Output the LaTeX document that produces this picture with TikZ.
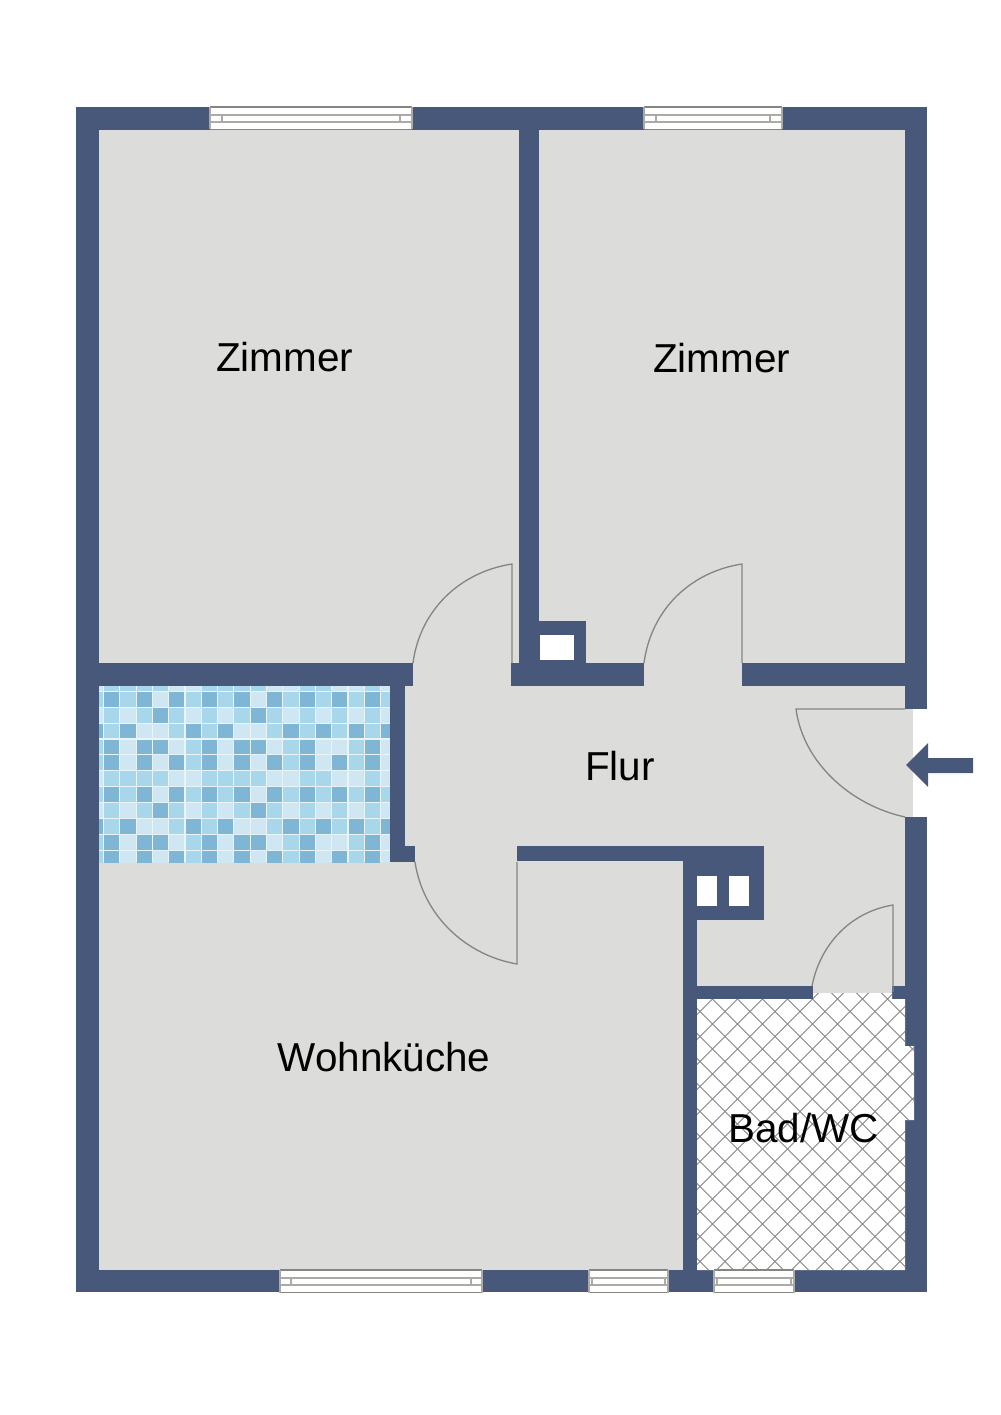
\documentclass[tikz,border=0pt]{standalone}
\usepackage{fontspec}
\setmainfont{Liberation Sans}

\definecolor{wallblue}{HTML}{47587B}
\definecolor{floorgrey}{HTML}{DCDCDA}
\definecolor{doorgrey}{HTML}{858582}
\definecolor{tiledark}{HTML}{80B6D5}
\definecolor{tilemid}{HTML}{A8D7EC}
\definecolor{tilelight}{HTML}{CFE7F2}
\definecolor{tilegrout}{HTML}{EAF5F9}

\tikzset{
	wall/.style={fill=wallblue,draw=none},
	doorleaf/.style={draw=doorgrey,line width=0.75pt},
	windowframe/.style={fill=white,draw=none},
	windowrail/.style={draw=doorgrey!70,line width=0.6pt},
	windowedge/.style={draw=doorgrey,line width=1pt},
	bathline/.style={draw=doorgrey,line width=0.55pt},
	roomlabel/.style={font=\fontsize{23}{27}\selectfont,text=black},
	tiletone/.style={fill=tile#1,draw=none}
}

\newcommand{\windowgap}[4]{
	\fill[windowframe] (#1,#3) rectangle (#2,#3+22.5);
	\draw[windowedge] (#1,#3) -- (#2,#3);
	\draw[windowedge] (#1,#3+22.5) -- (#2,#3+22.5);
	\draw[windowrail] (#1,#3) -- (#1,#3+22.5);
	\draw[windowrail] (#2,#3) -- (#2,#3+22.5);
	\draw[windowrail] (#1,#3+8) -- (#2,#3+8);
	\draw[windowrail] (#1,#3+15) -- (#2,#3+15);
	\draw[windowrail] (#1+#4,#3+8) -- (#1+#4,#3+15);
	\draw[windowrail] (#2-#4,#3+8) -- (#2-#4,#3+15);
}

\def\tilerowa{mid,dark,mid,dark,light,dark,mid,dark,mid,dark,light,dark,mid,dark,mid,dark,mid,dark,mid}
\def\tilerowb{light,mid,light,mid,dark,mid,light,mid,light,mid,dark,mid,light,mid,light,mid,light,mid,light}
\def\tilerowc{dark,mid,dark,light,light,mid,dark,mid,dark,light,light,mid,dark,mid,dark,mid,dark,mid,dark}
\def\tilerowd{mid,dark,light,dark,dark,light,mid,dark,light,dark,dark,light,mid,dark,light,light,mid,dark,light}
\def\tilerowe{mid,dark,light,dark,light,dark,mid,dark,light,dark,light,dark,mid,dark,light,dark,mid,dark,light}
\def\tilerowf{light,mid,mid,mid,mid,light,light,mid,mid,mid,mid,light,light,mid,mid,light,light,mid,light}

\newcommand{\tilerow}[2]{
	\foreach \tone [count=\colno from -1] in #2
		\fill[tiletone=\tone] ({104+16.3*\colno},{675.7+15.95*#1}) rectangle +(15.2,14.9);
}

\begin{document}
\begin{tikzpicture}[x=0.2mm,y=-0.2mm]
	\useasboundingbox (0,0) rectangle (1000,1415);

	% floors
	\fill[floorgrey] (99,130) rectangle (905,1270);
	\fill[floorgrey] (905,709) rectangle (913,817);

	% tiled floor
	\fill[tilegrout] (99,686) rectangle (390,862);
	\begin{scope}
		\clip (99,686) rectangle (390,862);
		\tilerow{0}{\tilerowf}
		\tilerow{1}{\tilerowa}
		\tilerow{2}{\tilerowb}
		\tilerow{3}{\tilerowc}
		\tilerow{4}{\tilerowd}
		\tilerow{5}{\tilerowe}
		\tilerow{6}{\tilerowf}
		\tilerow{7}{\tilerowa}
		\tilerow{8}{\tilerowb}
		\tilerow{9}{\tilerowc}
		\tilerow{10}{\tilerowd}
		\tilerow{11}{\tilerowe}
	\end{scope}

	% outer walls
	\fill[wall] (76,107) rectangle (927,130);
	\fill[wall] (76,1270) rectangle (927,1292);
	\fill[wall] (76,107) rectangle (99,1292);
	\fill[wall] (905,107) rectangle (927,709);
	\fill[wall] (905,817) rectangle (927,1292);

	% inner walls
	\fill[wall] (519,130) rectangle (539,663);
	\fill[wall] (99,663) rectangle (413,686);
	\fill[wall] (511,663) rectangle (644,686);
	\fill[wall] (742,663) rectangle (905,686);
	\fill[wall] (390,686) rectangle (405,846);
	\fill[wall] (390,846) rectangle (415,862);
	\fill[wall] (517,846) rectangle (697,861);
	\fill[wall] (683,861) rectangle (697,1270);
	\fill[wall] (697,986) rectangle (813,999);
	\fill[wall] (892,986) rectangle (905,999);

	% chimneys
	\fill[wall] (539,621) rectangle (586,663);
	\fill[white] (540,635) rectangle (574,660);
	\fill[wall] (697,846) rectangle (764,920);
	\fill[white] (697,876) rectangle (717,906);
	\fill[white] (729,876) rectangle (749,906);

	% bath
	\path[fill=white] (697,999) -- (813,999) -- (813,993) -- (892,993) -- (892,999) -- (905,999) -- (905,1046) -- (914,1046) -- (914,1120) -- (905,1120) -- (905,1270) -- (697,1270) -- cycle;
	\begin{scope}
		\clip (697,999) -- (813,999) -- (813,993) -- (892,993) -- (892,999) -- (905,999) -- (905,1046) -- (914,1046) -- (914,1120) -- (905,1120) -- (905,1270) -- (697,1270) -- cycle;
		\foreach \d in {0,25,...,800} {
			\draw[bathline] (700+\d-300,986.5) -- (700+\d,1286.5);
			\draw[bathline] (400+\d+300,986.5) -- (400+\d,1286.5);
		}
	\end{scope}

	% windows
	\windowgap{210}{412}{107}{12}
	\windowgap{644}{782}{107}{12}
	\windowgap{280}{482}{1270}{11}
	\windowgap{589}{668}{1270}{3}
	\windowgap{714}{794}{1270}{3}

	% doors
	\draw[doorleaf] (512,663) -- (512,564) .. controls (460,572) and (420,610) .. (413,663);
	\draw[doorleaf] (742,663) -- (742,564) .. controls (690,572) and (651,610) .. (644,663);
	\draw[doorleaf] (517,862) -- (517,964) .. controls (465,955) and (423,915) .. (415,862);
	\draw[doorleaf] (893,992) -- (893,905) .. controls (850,912) and (820,945) .. (812,986);
	\draw[doorleaf] (905,709) -- (796,709) .. controls (803,762) and (850,805) .. (905,817);

	% entrance arrow
	\fill[wall] (906,765) -- (928,743) -- (928,758) -- (973,758) -- (973,773) -- (928,773) -- (928,787) -- cycle;

	% room labels
	\node[roomlabel] (zimmerleft) at (284.5,357) {Zimmer};
	\node[roomlabel] (zimmerright) at (721.5,358) {Zimmer};
	\node[roomlabel] (flur) at (620,766) {Flur};
	\node[roomlabel] (wohnkueche) at (384,1057) {Wohnküche};
	\node[roomlabel] (bad) at (803.5,1128) {Bad/WC};
\end{tikzpicture}
\end{document}
